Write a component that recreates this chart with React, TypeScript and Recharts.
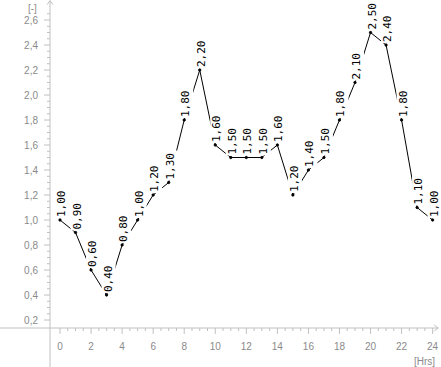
import { LineChart, Line, XAxis, YAxis, ReferenceLine, LabelList } from "recharts";

const hours = [0, 1, 2, 3, 4, 5, 6, 7, 8, 9, 10, 11, 12, 13, 14, 15, 16, 17, 18, 19, 20, 21, 22, 23, 24];
const values = [1.0, 0.9, 0.6, 0.4, 0.8, 1.0, 1.2, 1.3, 1.8, 2.2, 1.6, 1.5, 1.5, 1.5, 1.6, 1.2, 1.4, 1.5, 1.8, 2.1, 2.5, 2.4, 1.8, 1.1, 1.0];
const xMajorTicks = [0, 2, 4, 6, 8, 10, 12, 14, 16, 18, 20, 22, 24];
const yMajorTicks = [0.2, 0.4, 0.6, 0.8, 1.0, 1.2, 1.4, 1.6, 1.8, 2.0, 2.2, 2.4, 2.6];

const data = hours.map((h, i) => ({ hour: h, value: values[i] }));

// minor ticks: half hours on x, 0.05 steps on y
const xTicks: number[] = [];
for (let i = 0; i <= 48; i++) xTicks.push(i / 2);
const yTicks: number[] = [];
for (let i = 4; i <= 53; i++) yTicks.push(Math.round(i * 5) / 100);

const X_MIN = -0.644;
const X_MAX = 24.41;
const Y_MIN = 0.136;
const Y_MAX = 2.76;

const AXIS = "#c0c0c0";
const TEXT = "#8a8a8a";
const SANS = "'Liberation Sans', Arial, sans-serif";

// chart fills the whole window
if (typeof document !== "undefined") document.body.style.margin = "0";

const fmt = (v: number, d: number) => v.toFixed(d).replace(".", ",");

const isMajor = (v: number, list: number[]) => list.some((m) => Math.abs(m - v) < 1e-6);

const XTick = (props: any) => {
  const { x, y, payload } = props;
  const major = isMajor(payload.value, xMajorTicks);
  return (
    <g>
      <line x1={x} y1={y} x2={x} y2={y + (major ? 6 : 3)} stroke={AXIS} />
      {major && (
        <text x={x} y={y + 22} textAnchor="middle" fontSize={10} fontFamily={SANS} fill={TEXT}>
          {payload.value}
        </text>
      )}
    </g>
  );
};

const YTick = (props: any) => {
  const { x, y, payload } = props;
  const major = isMajor(payload.value, yMajorTicks);
  return (
    <g>
      <line x1={x - (major ? 6 : 3)} y1={y} x2={x} y2={y} stroke={AXIS} />
      {major && (
        <text x={x - 12} y={y + 3.5} textAnchor="end" fontSize={10} fontFamily={SANS} fill={TEXT}>
          {fmt(payload.value, 1)}
        </text>
      )}
    </g>
  );
};

const ArrowLine = (props: any) => {
  const { x1, y1, x2, y2 } = props;
  const horizontal = Math.abs(y2 - y1) < Math.abs(x2 - x1);
  const head = horizontal
    ? `M${x2 - 4},${y2 - 3} L${x2},${y2} L${x2 - 4},${y2 + 3}`
    : `M${x2 - 3},${y2 + 4} L${x2},${y2} L${x2 + 3},${y2 + 4}`;
  return (
    <g>
      <line x1={x1} y1={y1} x2={x2} y2={y2} stroke={AXIS} />
      <path d={head} fill="none" stroke={AXIS} />
    </g>
  );
};

const PointLabel = (props: any) => {
  const { x, y, value } = props;
  const ax = x + 5;
  const ay = y - 3;
  return (
    <g>
      <rect x={x - 5} y={y - 32} width={14} height={30} fill="#fff" />
      <text
        x={ax}
        y={ay}
        transform={`rotate(-90 ${ax} ${ay})`}
        fontSize={11}
        fontFamily="'DejaVu Sans Mono', 'Liberation Mono', monospace"
        fill="#000"
      >
        {fmt(value, 2)}
      </text>
    </g>
  );
};

export default function App() {
  return (
    <LineChart width={441} height={367} data={data} margin={{ top: 0, right: 2, bottom: 0, left: 0 }}>
      <XAxis
        type="number"
        dataKey="hour"
        domain={[X_MIN, X_MAX]}
        allowDataOverflow
        ticks={xTicks}
        interval={0}
        height={39}
        tickSize={0}
        tickMargin={0}
        axisLine={false}
        tickLine={false}
        tick={XTick}
        label={{
          content: () => (
            <text x={435} y={365} textAnchor="end" fontSize={10} fontFamily={SANS} fill={TEXT}>
              [Hrs]
            </text>
          ),
        }}
      />
      <YAxis
        type="number"
        domain={[Y_MIN, Y_MAX]}
        allowDataOverflow
        ticks={yTicks}
        interval={0}
        width={50}
        tickSize={0}
        tickMargin={0}
        axisLine={false}
        tickLine={false}
        tick={YTick}
        label={{
          content: () => (
            <text x={28} y={12} fontSize={10} fontFamily={SANS} fill={TEXT}>
              [-]
            </text>
          ),
        }}
      />
      <ReferenceLine
        segment={[{ x: -3.87, y: Y_MIN }, { x: 24.36, y: Y_MIN }]}
        ifOverflow="visible"
        shape={ArrowLine}
      />
      <ReferenceLine
        segment={[{ x: X_MIN, y: -0.18 }, { x: X_MIN, y: 2.755 }]}
        ifOverflow="visible"
        shape={ArrowLine}
      />
      <Line
        type="linear"
        dataKey="value"
        stroke="#000"
        strokeWidth={1}
        dot={{ r: 1.2, fill: "#000", stroke: "#000", strokeWidth: 0.8 }}
        activeDot={false}
        isAnimationActive={false}
      >
        <LabelList dataKey="value" content={PointLabel} />
      </Line>
    </LineChart>
  );
}
